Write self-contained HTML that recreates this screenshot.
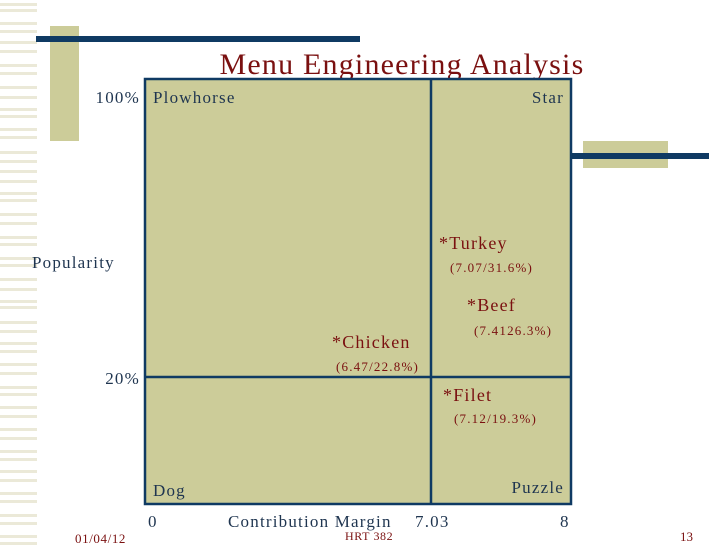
<!DOCTYPE html>
<html><head><meta charset="utf-8"><style>
body{margin:0;background:#fff;}
svg{display:block;font-family:"Liberation Serif",serif;}
</style></head><body>
<svg width="728" height="546" viewBox="0 0 728 546">
<g fill="#ebe9d8" id="stripes"></g>
<rect x="50" y="26" width="29" height="115" fill="#cccc99"/>
<rect x="36" y="36" width="324" height="6" fill="#0f3a63"/>
<rect x="583" y="141" width="85" height="27" fill="#cccc99"/>
<rect x="572" y="153" width="137" height="6" fill="#0f3a63"/>
<text x="402" y="74" font-size="30" letter-spacing="1.2" fill="#7a1010" text-anchor="middle">Menu Engineering Analysis</text>
<g id="plot"></g>
<text x="75" y="543" font-size="13" letter-spacing="0.6" fill="#7a1010">01/04/12</text>
<text x="345" y="540" font-size="12" letter-spacing="0.6" fill="#7a1010">HRT 382</text>
<text x="680" y="541" font-size="13" fill="#7a1010">13</text>
</svg>
<script>
const NS="http://www.w3.org/2000/svg";
const quadrants=["Plowhorse","Star","Dog","Puzzle"];
const items=["Turkey","Beef","Chicken","Filet"];
const labels=["(7.07/31.6%)","(7.4126.3%)","(6.47/22.8%)","(7.12/19.3%)"];
const xTicks=["0","7.03","8"];
const yTicks=["100%","20%"];
const st=document.getElementById('stripes');
const sy=[3,9,22,30,41,50,64,72,86,96,108,115,128,136,151,160,170,180,192,199,213,222,236,243,257,264,278,288,300,306,321,330,342,350,363,372,386,393,406,415,428,437,450,458,470,479,492,500,514,522,535,542];
for(const y of sy){const r=document.createElementNS(NS,'rect');r.setAttribute('x',0);r.setAttribute('y',y);r.setAttribute('width',37);r.setAttribute('height',3);


st.appendChild(r);}
const p=document.getElementById('plot');
p.innerHTML=`
<rect x="145" y="79" width="426" height="425" fill="#cccc99" stroke="#0f3a63" stroke-width="2.5"/>
<line x1="431" y1="79" x2="431" y2="504" stroke="#0f3a63" stroke-width="2.5"/>
<line x1="145" y1="377" x2="571" y2="377" stroke="#0f3a63" stroke-width="2.5"/>
<g font-size="17" fill="#1f3550" letter-spacing="1.2">
<text x="153" y="103">${quadrants[0]}</text>
<text x="564" y="103" text-anchor="end">${quadrants[1]}</text>
<text x="153" y="496">${quadrants[2]}</text>
<text x="564" y="493" text-anchor="end">${quadrants[3]}</text>
<text x="140" y="103" text-anchor="end">${yTicks[0]}</text>
<text x="140" y="384" text-anchor="end">${yTicks[1]}</text>
<text x="32" y="268">Popularity</text>
<text x="148" y="527">${xTicks[0]}</text>
<text x="228" y="527">Contribution Margin</text>
<text x="415" y="527">${xTicks[1]}</text>
<text x="560" y="527">${xTicks[2]}</text>
</g>
<g fill="#7a1010" letter-spacing="1.2">
<text x="439" y="249" font-size="18">*${items[0]}</text>
<text x="450" y="272" font-size="13">${labels[0]}</text>
<text x="467" y="311" font-size="18">*${items[1]}</text>
<text x="474" y="335" font-size="13">${labels[1]}</text>
<text x="332" y="348" font-size="18">*${items[2]}</text>
<text x="336" y="371" font-size="13">${labels[2]}</text>
<text x="443" y="401" font-size="18">*${items[3]}</text>
<text x="454" y="423" font-size="13">${labels[3]}</text>
</g>`;
</script>
</body></html>
